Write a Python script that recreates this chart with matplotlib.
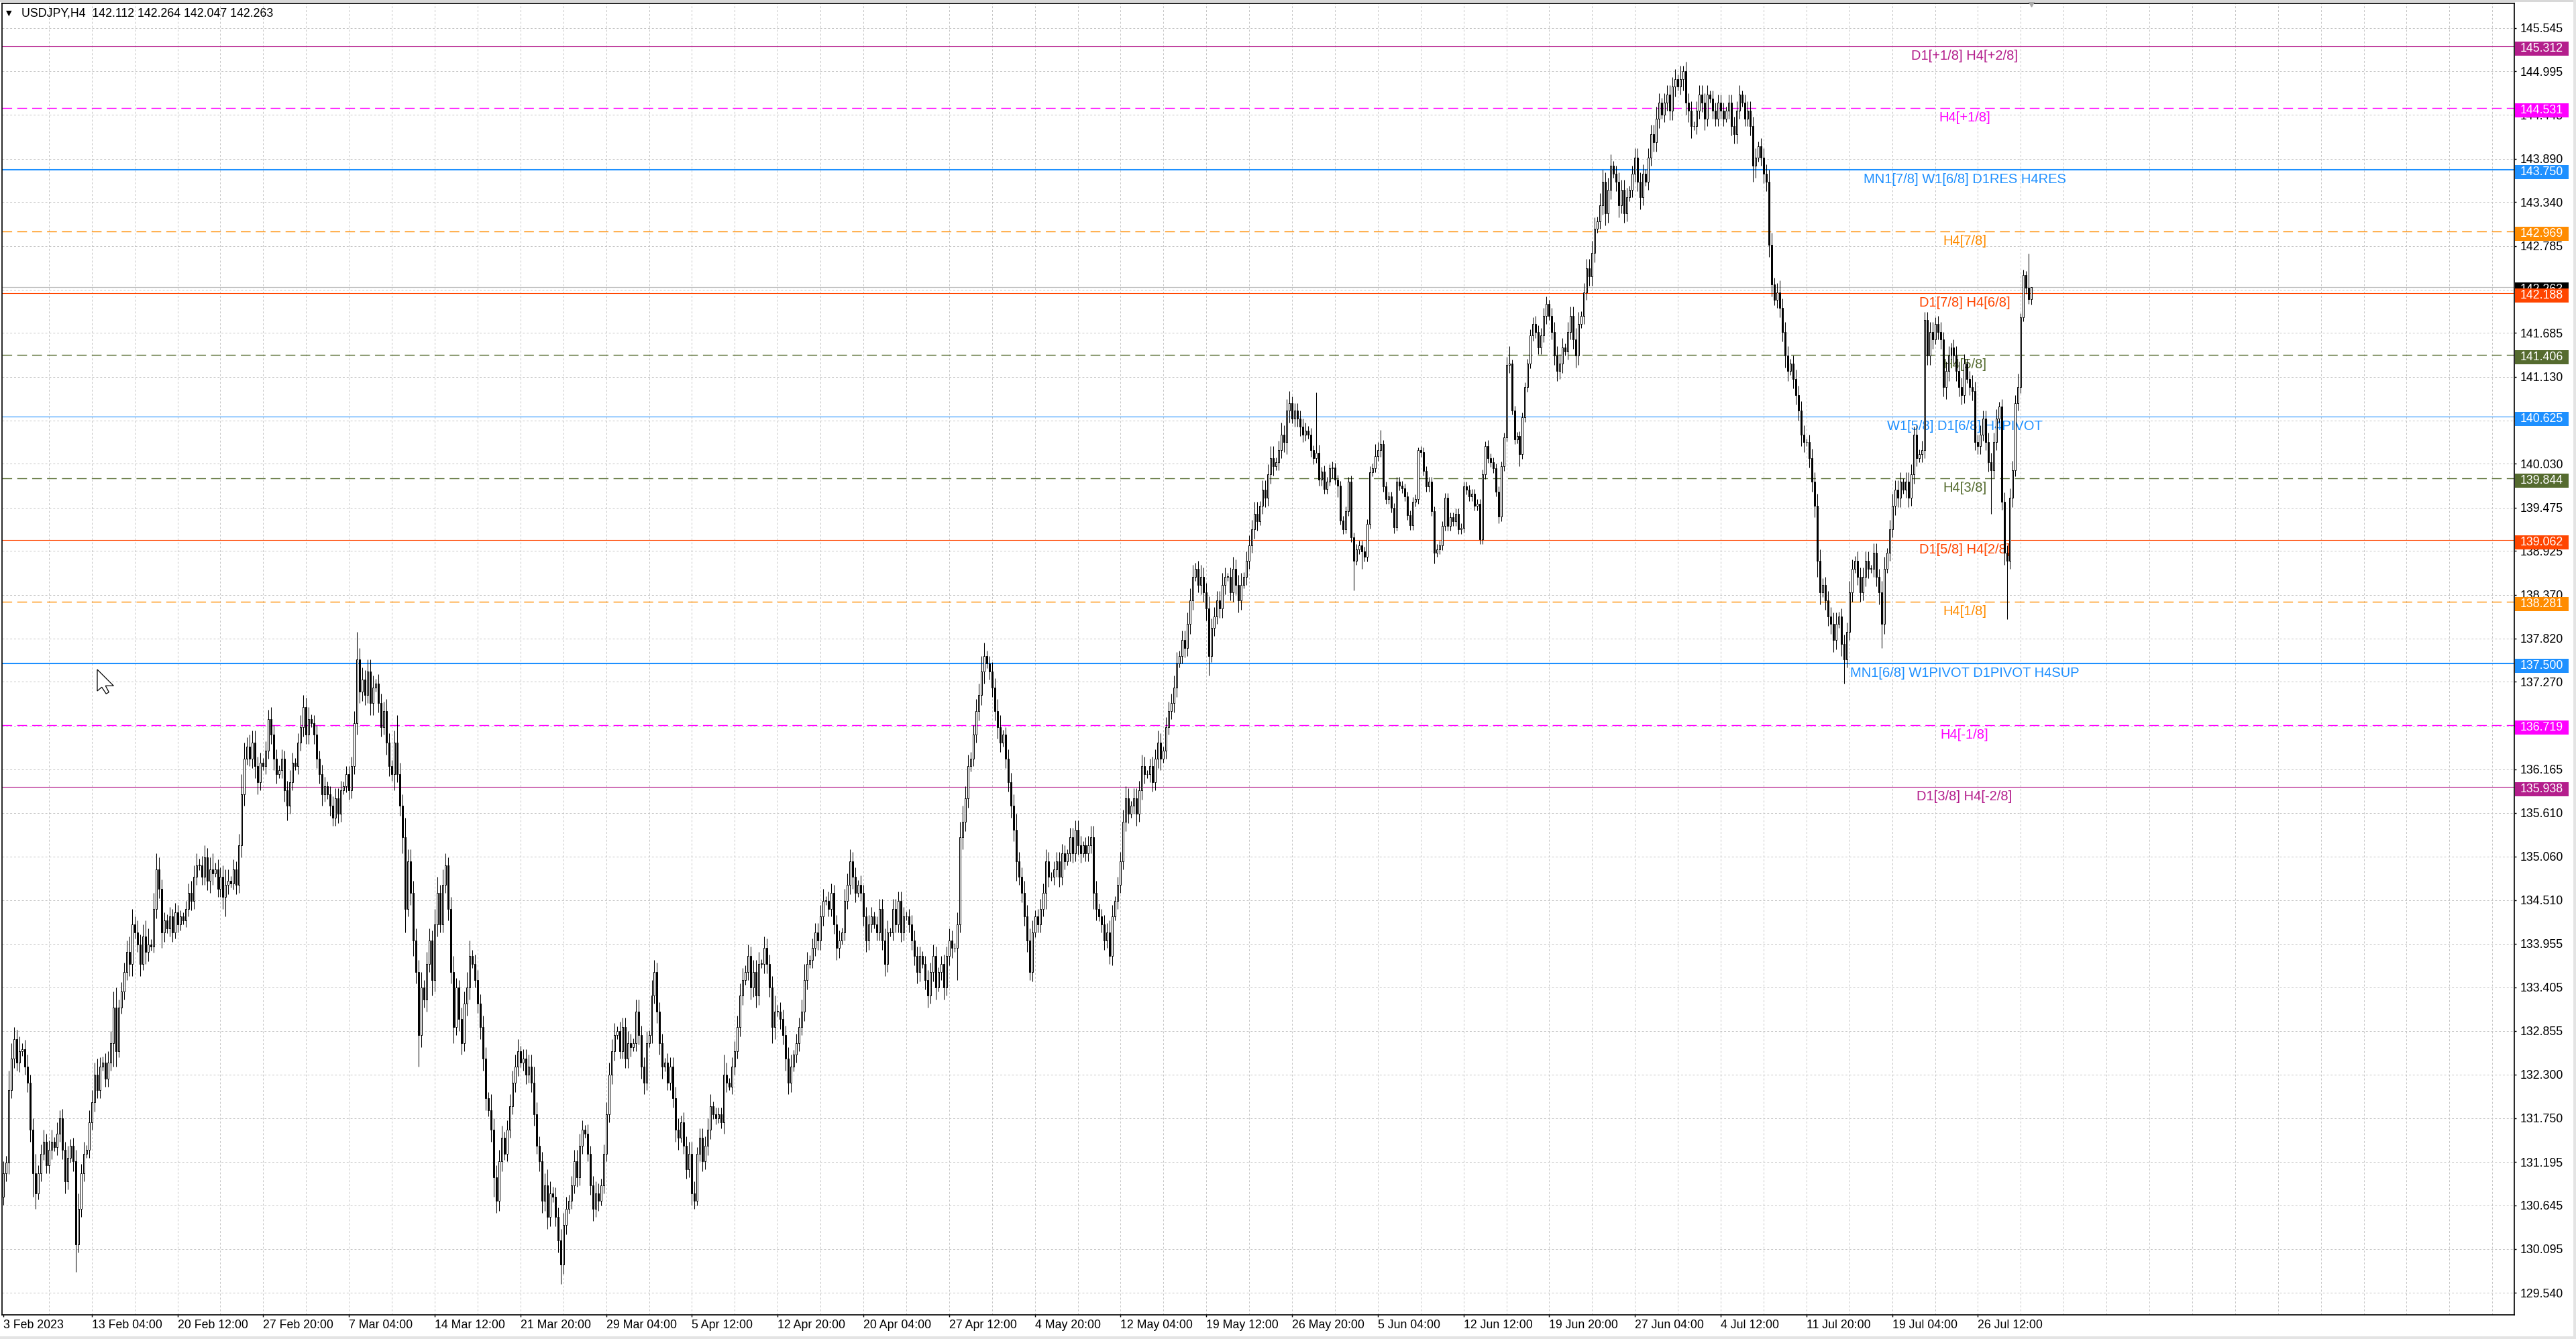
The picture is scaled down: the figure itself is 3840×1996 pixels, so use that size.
import matplotlib
matplotlib.use("Agg")
import matplotlib.pyplot as plt
from matplotlib.patches import Rectangle, Polygon
import numpy as np

plt.rcParams['font.family'] = ['Liberation Sans', 'DejaVu Sans']

symbol = "USDJPY,H4"
first_open = 130.75

# H4 bars, one trading day per row: close:upper wick:lower wick (wicks in 0.01 yen)
h4_bars = """
03Feb 131.05:15:10 131.19:8:10
06Feb 132.10:25:15 132.50:20:10 132.75:15:12 132.45:12:10 132.60:18:12 132.62:8:6
07Feb 132.40:12:10 132.20:15:12 131.60:10:15 131.05:15:30 130.80:25:20 131.05:10:8
08Feb 131.30:12:10 131.45:15:8 131.15:10:10 131.35:12:10 131.45:15:12 131.38:6:5
09Feb 131.55:15:10 131.75:10:10 131.35:12:12 130.95:10:15 131.25:15:10 131.40:8:6
10Feb 131.20:10:12 130.15:15:35 130.60:20:10 131.05:12:10 131.30:15:10 131.35:6:5
13Feb 131.70:15:10 131.95:15:10 132.30:15:12 132.10:20:10 132.40:12:10 132.45:8:5
14Feb 132.25:12:10 132.45:15:10 132.70:15:10 133.15:20:30 132.60:25:20 133.15:10:8
15Feb 133.35:12:8 133.60:12:10 133.85:15:10 133.70:20:15 134.20:20:15 134.10:10:8
16Feb 133.95:15:10 133.70:12:15 134.05:15:8 133.85:20:15 133.95:20:12 133.92:6:5
17Feb 134.40:20:8 134.90:20:12 134.65:15:12 134.10:12:20 134.25:10:12 134.15:8:6
20Feb 134.30:12:10 134.10:10:12 134.35:12:8 134.20:10:10 134.30:8:8 134.25:5:5
21Feb 134.40:10:8 134.60:12:10 134.50:15:12 134.80:15:10 134.95:15:10 134.95:8:6
22Feb 134.80:12:10 135.05:15:10 134.75:12:12 134.90:15:15 134.85:20:15 134.90:8:5
23Feb 134.65:12:10 134.80:12:10 134.55:15:15 134.70:20:25 134.75:15:12 134.72:6:5
24Feb 134.90:12:8 134.70:10:12 135.20:15:10 135.85:25:15 136.30:20:15 136.45:12:8
27Feb 136.30:15:10 136.50:15:12 136.20:15:15 136.00:12:15 136.25:12:10 136.20:6:5
28Feb 136.40:12:10 136.80:12:10 136.60:15:12 136.30:12:15 136.10:12:12 136.15:6:5
01Mar 136.30:12:10 135.90:10:15 135.70:12:18 136.00:15:10 136.25:12:10 136.20:6:5
02Mar 136.50:12:10 136.70:15:10 136.95:15:12 136.60:12:12 136.80:15:12 136.75:6:5
03Mar 136.60:10:12 136.30:12:12 136.10:10:12 135.85:12:15 135.95:12:10 135.85:6:6
06Mar 135.70:10:12 135.55:12:10 135.80:12:10 135.60:12:12 135.90:12:10 135.95:6:5
07Mar 136.10:10:8 135.90:10:12 136.20:12:10 136.75:15:10 137.55:35:15 137.15:15:15
08Mar 137.30:15:12 137.10:12:12 137.40:15:10 137.00:15:15 137.20:15:15 137.25:6:5
09Mar 137.00:12:12 136.70:12:12 136.90:12:10 136.50:15:15 136.20:12:12 136.10:8:8
10Mar 136.50:15:20 136.10:35:10 135.70:15:12 135.30:15:20 134.40:25:30 135.00:15:10
13Mar 134.60:15:15 134.00:15:20 133.60:15:15 132.80:15:40 133.40:20:15 133.25:10:10
14Mar 133.70:15:15 134.00:15:10 133.50:12:20 134.20:20:15 134.60:20:15 134.20:10:10
15Mar 134.70:20:10 134.95:15:10 134.40:10:15 133.60:15:15 132.90:20:20 133.40:12:10
16Mar 133.00:10:15 132.70:15:15 133.20:15:10 133.40:20:15 133.80:20:15 133.70:8:5
17Mar 133.50:12:10 133.20:12:12 132.90:12:15 132.50:15:15 132.00:15:15 131.85:8:8
20Mar 131.60:20:15 131.00:15:25 130.70:15:15 131.20:15:12 131.50:15:12 131.30:8:8
21Mar 131.60:12:10 131.90:15:10 132.20:15:10 132.40:15:12 132.60:15:12 132.45:6:6
22Mar 132.50:12:10 132.30:12:12 132.40:15:10 132.20:15:12 131.80:20:15 131.40:15:10
23Mar 131.20:12:12 130.70:12:15 130.90:15:12 130.50:20:15 130.80:15:12 130.75:8:6
24Mar 130.50:12:12 130.20:12:15 129.90:15:25 130.40:15:12 130.60:15:12 130.70:8:6
27Mar 130.90:12:10 131.20:15:10 131.00:15:12 131.40:15:10 131.60:12:10 131.55:6:5
28Mar 131.30:12:10 130.90:10:12 130.60:12:15 130.80:15:10 130.70:12:12 130.90:8:6
29Mar 131.30:12:10 131.80:15:10 132.30:15:10 132.60:15:12 132.80:15:12 132.85:6:5
30Mar 132.60:12:10 132.90:12:10 132.50:12:12 132.70:15:12 132.65:12:12 132.70:6:5
31Mar 133.10:15:10 132.80:15:12 132.40:12:15 132.20:12:15 132.70:15:10 132.80:6:5
03Apr 133.30:20:10 133.60:15:10 133.10:12:15 132.70:12:15 132.40:12:15 132.45:6:6
04Apr 132.20:12:10 132.40:12:10 132.00:12:12 131.60:15:15 131.50:15:15 131.70:8:6
05Apr 131.40:12:10 131.10:12:12 131.30:15:10 130.80:15:15 130.70:15:10 131.30:8:6
06Apr 131.50:12:10 131.20:12:12 131.40:12:10 131.60:15:12 131.90:15:12 131.80:6:6
07Apr 131.75:8:8 131.80:8:6 131.70:8:8 132.30:25:15 132.20:15:12 132.15:6:5
10Apr 132.40:12:10 132.60:12:10 132.90:15:10 133.30:15:12 133.50:15:12 133.60:8:6
11Apr 133.80:15:10 133.40:12:15 133.60:15:12 133.30:15:15 133.70:15:12 133.70:6:5
12Apr 133.90:15:12 133.70:12:12 133.40:12:12 132.90:15:20 133.10:20:15 133.10:8:6
13Apr 133.00:12:12 132.80:12:12 132.50:12:15 132.20:15:15 132.40:15:12 132.55:6:6
14Apr 132.70:12:10 132.90:12:10 133.10:15:10 133.50:20:12 133.70:15:12 133.75:6:5
17Apr 133.90:12:10 134.10:12:10 134.00:12:12 134.30:15:12 134.50:15:12 134.50:6:5
18Apr 134.40:12:10 134.60:12:10 134.20:10:12 133.90:12:15 134.00:12:12 134.10:6:5
19Apr 134.50:15:10 134.70:15:10 135.00:15:12 134.80:12:15 134.60:12:12 134.70:6:5
20Apr 134.60:12:10 134.30:10:12 134.00:12:15 134.20:12:12 134.30:12:10 134.20:6:5
21Apr 134.10:10:10 134.40:12:10 134.00:12:12 133.70:15:15 134.10:15:10 134.10:6:5
24Apr 134.40:12:10 134.20:12:10 134.50:12:10 134.10:12:12 134.30:12:10 134.30:6:5
25Apr 134.20:10:10 134.00:12:12 133.80:12:12 133.60:12:15 133.80:12:12 133.70:6:5
26Apr 133.50:10:12 133.30:12:15 133.60:12:10 133.80:15:12 133.40:12:15 133.60:6:5
27Apr 133.70:10:10 133.40:12:15 133.80:12:10 134.00:15:12 133.90:12:12 133.90:6:5
28Apr 134.20:15:40 135.30:20:10 135.50:20:15 135.80:15:12 136.20:15:12 136.30:8:6
01May 136.60:12:10 136.90:15:10 137.10:15:12 137.40:20:12 137.60:17:15 137.50:6:6
02May 137.40:10:10 137.20:12:12 136.90:12:12 136.70:15:15 136.50:15:12 136.60:6:5
03May 136.30:10:12 136.00:12:12 135.70:12:15 135.40:15:15 135.00:20:25 134.80:12:10
04May 134.60:12:12 134.30:15:12 134.00:15:15 133.60:15:10 134.10:15:12 134.30:8:6
05May 134.20:10:10 134.40:12:10 134.60:12:10 135.00:15:20 134.80:12:12 134.80:6:5
08May 134.90:10:10 135.00:12:10 134.80:12:12 135.10:12:10 135.00:10:10 135.10:5:5
09May 135.30:12:10 135.10:12:12 135.40:12:10 135.20:12:12 135.10:12:12 135.20:5:5
10May 135.10:10:10 135.20:12:10 135.30:15:10 134.60:15:20 134.40:15:15 134.30:6:6
11May 134.20:10:10 134.00:12:12 134.10:12:10 133.80:15:10 134.30:15:12 134.50:6:5
12May 134.70:10:10 135.00:12:10 135.50:15:10 135.80:15:12 135.60:12:12 135.70:6:5
15May 135.80:12:10 135.60:12:15 135.90:12:10 136.20:15:12 136.10:12:12 136.10:5:5
16May 136.20:10:10 136.00:12:12 136.30:12:10 136.50:15:12 136.30:12:15 136.40:5:5
17May 136.70:12:10 136.90:12:10 137.00:12:10 137.20:15:12 137.50:15:12 137.60:6:5
18May 137.80:12:10 137.70:12:12 138.00:15:10 138.30:15:12 138.60:15:12 138.70:8:5
19May 138.50:10:10 138.60:15:12 138.40:12:12 138.20:12:15 137.60:15:25 137.95:12:8
22May 138.10:12:10 138.30:12:10 138.20:12:12 138.50:15:12 138.60:12:12 138.60:5:5
23May 138.40:12:10 138.70:15:12 138.50:12:12 138.30:12:15 138.50:15:12 138.60:6:5
24May 138.80:12:10 139.00:12:10 139.20:12:10 139.40:15:12 139.30:15:12 139.50:6:5
25May 139.70:12:10 139.60:12:12 139.90:12:10 140.10:15:12 140.00:15:12 140.05:6:5
26May 140.20:12:10 140.40:15:10 140.30:12:12 140.70:15:15 140.80:15:15 140.60:8:6
29May 140.70:10:10 140.60:10:10 140.50:10:12 140.40:10:10 140.45:10:8 140.40:6:5
30May 140.20:8:8 140.10:6:8 140.17:76:6 139.83:10:8 139.93:6:8 139.71:8:6
31May 139.80:6:6 139.97:5:5 139.98:8:12 139.83:6:6 139.75:6:14 139.31:6:5
01Jun 139.20:6:6 139.43:6:5 139.80:6:6 139.10:8:6 138.80:6:37 138.95:6:5
02Jun 139.00:6:6 138.92:6:22 138.85:6:6 139.27:6:6 139.92:8:6 139.97:6:5
05Jun 140.13:15:5 140.20:10:6 140.28:18:8 139.74:5:6 139.58:6:6 139.62:6:6
06Jun 139.47:6:6 139.23:6:8 139.80:6:5 139.75:6:6 139.72:6:6 139.62:6:6
07Jun 139.38:6:6 139.25:6:6 139.55:6:6 139.58:6:6 140.20:4:6 140.18:5:6
08Jun 139.94:6:6 139.74:6:6 139.80:6:6 139.43:6:6 138.90:6:13 138.95:6:5
09Jun 139.00:6:6 139.24:6:6 139.60:6:6 139.24:6:6 139.35:6:6 139.30:6:6
12Jun 139.40:6:6 139.20:6:6 139.22:6:6 139.74:6:6 139.70:6:6 139.62:6:6
13Jun 139.65:6:6 139.50:6:6 139.52:6:6 139.07:6:6 139.90:6:6 140.25:6:6
14Jun 140.10:8:6 140.05:6:6 139.97:6:6 139.68:6:6 139.36:6:8 140.00:6:6
15Jun 140.36:6:6 141.28:10:5 141.30:22:10 140.70:5:5 140.34:6:6 140.38:5:5
16Jun 140.15:6:15 140.62:6:6 141.00:6:6 141.30:6:6 141.65:8:6 141.80:8:6
19Jun 141.70:10:8 141.50:8:8 141.65:10:8 141.90:10:8 142.05:10:10 141.90:5:5
20Jun 141.70:10:10 141.40:12:12 141.20:12:12 141.30:12:10 141.50:12:12 141.45:5:5
21Jun 141.70:12:10 141.90:12:10 141.60:12:12 141.40:15:15 141.80:15:12 141.90:6:5
22Jun 142.20:12:10 142.50:12:10 142.40:12:12 142.70:15:12 143.00:15:12 143.10:6:5
23Jun 143.30:15:10 143.60:15:12 143.20:12:15 143.50:15:12 143.80:15:12 143.70:6:5
26Jun 143.60:10:12 143.30:12:15 143.50:12:10 143.20:12:12 143.40:12:10 143.50:5:5
27Jun 143.70:10:10 143.90:12:10 143.60:12:12 143.40:12:15 143.70:12:10 143.60:6:5
28Jun 143.90:12:10 144.20:12:10 144.10:12:12 144.40:15:12 144.60:12:12 144.45:6:5
29Jun 144.60:12:10 144.70:12:10 144.50:12:12 144.80:12:12 144.90:12:12 144.80:6:5
30Jun 144.90:17:10 145.00:7:15 144.60:12:15 144.50:12:15 144.30:12:15 144.30:6:5
03Jul 144.50:12:10 144.70:12:10 144.60:12:12 144.40:12:15 144.70:12:10 144.65:5:5
04Jul 144.50:10:10 144.40:10:10 144.60:10:10 144.50:10:10 144.40:10:10 144.50:5:5
05Jul 144.60:10:10 144.30:10:12 144.20:12:12 144.50:12:12 144.70:12:10 144.60:5:5
06Jul 144.40:10:10 144.50:12:10 144.30:12:12 143.80:12:20 143.90:12:15 144.05:6:5
07Jul 143.90:10:10 143.70:12:12 143.60:12:12 142.80:15:15 142.30:15:15 142.10:8:6
10Jul 142.20:12:10 142.00:15:12 141.70:12:12 141.40:12:15 141.20:12:12 141.30:6:5
11Jul 141.10:10:12 140.90:12:12 140.70:12:12 140.40:12:15 140.30:12:12 140.30:5:5
12Jul 140.10:10:12 139.80:12:12 139.50:12:15 138.80:15:20 138.40:15:15 138.50:8:6
13Jul 138.30:10:12 138.10:12:12 138.00:12:12 137.80:15:15 138.00:15:12 138.10:6:5
14Jul 137.75:10:15 137.55:12:30 137.90:12:10 138.40:15:10 138.70:12:12 138.80:6:5
17Jul 138.60:12:10 138.40:12:12 138.60:12:10 138.80:12:12 138.70:12:12 138.70:5:5
18Jul 138.90:12:10 138.60:12:12 138.40:10:15 138.00:15:30 138.70:15:12 138.90:6:5
19Jul 139.20:12:10 139.50:15:10 139.70:12:12 139.60:12:12 139.80:12:12 139.70:5:5
20Jul 139.80:12:10 139.60:12:12 139.90:12:10 140.40:10:12 140.10:12:10 140.15:6:5
21Jul 140.20:12:10 141.85:10:10 141.40:10:12 141.70:12:12 141.60:12:12 141.80:8:6
24Jul 141.70:10:10 141.60:12:12 141.00:10:12 141.20:12:15 141.40:12:12 141.50:6:5
25Jul 141.40:10:10 141.20:12:12 141.00:12:12 140.90:12:12 141.30:12:10 141.10:6:5
26Jul 141.00:10:10 140.95:15:12 140.30:12:10 140.25:10:10 140.40:12:10 140.60:10:8
27Jul 140.30:10:10 140.05:12:12 139.95:12:55 140.30:12:10 140.60:12:10 140.75:6:5
28Jul 139.55:10:10 138.90:12:15 138.80:10:74 139.60:12:10 139.95:12:12 140.80:10:8
31Jul 141.00:17:10 141.88:5:8 142.42:7:5 142.26:5:8 142.112:43:6 142.263:0.1:6.5
"""

# Murrey math levels drawn by the indicator
levels = [145.312, 144.531, 143.750, 142.969, 142.188, 141.406, 140.625,
          139.844, 139.062, 138.281, 137.500, 136.719, 135.938]
level_names = ["D1[+1/8] H4[+2/8]", "H4[+1/8]", "MN1[7/8] W1[6/8] D1RES H4RES",
               "H4[7/8]", "D1[7/8] H4[6/8]", "H4[5/8]", "W1[5/8] D1[6/8] H4PIVOT",
               "H4[3/8]", "D1[5/8] H4[2/8]", "H4[1/8]", "MN1[6/8] W1PIVOT D1PIVOT H4SUP",
               "H4[-1/8]", "D1[3/8] H4[-2/8]"]
level_colors = ["#B41E8C", "#FF00FF", "#1E90FF", "#FF8C00", "#FF4500", "#556B2F", "#1E90FF",
                "#556B2F", "#FF4500", "#FF8C00", "#1E90FF", "#FF00FF", "#B41E8C"]
level_kinds = ["solid", "dash", "thick", "dash", "solid", "dash", "solid",
               "dash", "solid", "dash", "thick", "dash", "solid"]

price_ticks = [145.545, 144.995, 144.445, 143.890, 143.340, 142.785, 142.235, 141.685,
               141.130, 140.580, 140.030, 139.475, 138.925, 138.370, 137.820, 137.270,
               136.715, 136.165, 135.610, 135.060, 134.510, 133.955, 133.405, 132.855,
               132.300, 131.750, 131.195, 130.645, 130.095, 129.540]

time_labels = ["3 Feb 2023", "13 Feb 04:00", "20 Feb 12:00", "27 Feb 20:00", "7 Mar 04:00",
               "14 Mar 12:00", "21 Mar 20:00", "29 Mar 04:00", "5 Apr 12:00", "12 Apr 20:00",
               "20 Apr 04:00", "27 Apr 12:00", "4 May 20:00", "12 May 04:00", "19 May 12:00",
               "26 May 20:00", "5 Jun 04:00", "12 Jun 12:00", "19 Jun 20:00", "27 Jun 04:00",
               "4 Jul 12:00", "11 Jul 20:00", "19 Jul 04:00", "26 Jul 12:00"]

# parse bars
closes, wick_up, wick_dn = [], [], []
for row in h4_bars.strip().splitlines():
    for tok in row.split()[1:]:
        c, u, d = tok.split(":")
        closes.append(float(c))
        wick_up.append(float(u) / 100)
        wick_dn.append(float(d) / 100)
closes = np.array(closes)
opens = np.r_[first_open, closes[:-1]]
highs = np.maximum(opens, closes) + np.array(wick_up)
lows = np.minimum(opens, closes) - np.array(wick_dn)
x = np.arange(len(closes))

W, H = 3840, 1996
ax_l, ax_r, ax_t, ax_b = 3, 3748, 5, 1960
fig = plt.figure(figsize=(W / 100, H / 100), dpi=100)
ax = fig.add_axes([ax_l / W, (H - ax_b) / H, (ax_r - ax_l) / W, (ax_b - ax_t) / H])

ytop, ybot = 145.856, 129.260
ax.set_ylim(ybot, ytop)
ax.set_xlim(-0.5, 937.2)
px_per_price = (ax_b - ax_t) / (ytop - ybot)
ax_w_px = ax_r - ax_l

# grid
grid_kw = dict(color="#C4C4C4", lw=0.7, ls=(0, (3, 3)), zorder=0.5)
for p in price_ticks:
    ax.axhline(p, **grid_kw)
for g in range(17, 938, 16):
    ax.axvline(g, **grid_kw)

# levels + labels
for lv, name, col, kind in zip(levels, level_names, level_colors, level_kinds):
    if kind == "dash":
        ax.axhline(lv, color=col, lw=1.0, ls=(0, (10.5, 5.5)), zorder=1)
    elif kind == "thick":
        ax.axhline(lv, color=col, lw=1.5, zorder=1)
    else:
        ax.axhline(lv, color=col, lw=0.8, zorder=1)
    ax.text(732, lv - 20 / px_per_price, name, color=col, fontsize=14.5,
            ha="center", va="baseline", zorder=2)

# current price line
last = closes[-1]
ax.axhline(last, color="#C0C0C0", lw=0.9, zorder=1)

# candles
ax.vlines(x, lows, highs, color="black", lw=0.75, zorder=3)
body = np.maximum(np.abs(closes - opens), 0.006)
bull = closes >= opens
ax.bar(x, body, bottom=np.minimum(opens, closes), width=0.5,
       color=np.where(bull, "white", "black"), edgecolor="black", linewidth=0.7, zorder=4)

# price axis
ax.yaxis.tick_right()
ax.set_yticks(price_ticks, [f"{p:.3f}" for p in price_ticks])
ax.tick_params(axis="y", length=2.2, width=1, pad=4.3, labelsize=12.8, colors="black")

ax.set_xticks([0] + [33 + 32 * k for k in range(len(time_labels) - 1)])
ax.set_xticklabels(time_labels, ha="left")
ax.tick_params(axis="x", length=2.5, width=1, pad=2.5, labelsize=12.8)

for sp in ax.spines.values():
    sp.set_color("black")
    sp.set_linewidth(1.2)

# price tags on the right
ytr = ax.get_yaxis_transform()
tag_w = 80 / ax_w_px
tag_h = 21 / px_per_price


def price_tag(value, color, z):
    yc = value - 3 / px_per_price
    ax.add_patch(Rectangle((1.0 + 1 / ax_w_px, yc - tag_h / 2), tag_w, tag_h, transform=ytr,
                           facecolor=color, edgecolor="none", clip_on=False, zorder=z))
    ax.text(1.0 + 1 / ax_w_px + tag_w / 2, yc, f"{value:.3f}", transform=ytr, color="white",
            fontsize=12.8, ha="center", va="center", clip_on=False, zorder=z + 0.1)


price_tag(last, "black", 5)
for lv, col in zip(levels, level_colors):
    price_tag(lv, col, 6)

# header
header = f"{symbol}  {opens[-1]:.3f} {highs[-1]:.3f} {lows[-1]:.3f} {closes[-1]:.3f}"
hy = 1 - (19.6 - ax_t) / (ax_b - ax_t)
ax.text(6 / ax_w_px, hy, "\u25bc", transform=ax.transAxes, fontsize=8,
        family="DejaVu Sans", ha="left", va="center", zorder=7)
ax.text(29 / ax_w_px, hy, header, transform=ax.transAxes, fontsize=12.8,
        ha="left", va="center", zorder=7)

# chart shift marker
ax.plot([len(closes) - 1], [ytop], marker="v", ms=7, color="#A8A8A8", clip_on=False, zorder=7)

# mouse pointer left in the screenshot (figure pixels from top-left)
cursor_px = [(145, 998), (145, 1030), (151.7, 1024.3), (158.3, 1034.3),
             (162.3, 1031.7), (157.3, 1022.3), (169.3, 1022.3)]
fig.patches.append(Polygon([(px / W, 1 - py / H) for px, py in cursor_px], closed=True,
                           transform=fig.transFigure, facecolor="white",
                           edgecolor="black", lw=0.9, zorder=10))

# window frame strips
fig.patches.append(Rectangle((0, 1 - 3 / H), 1, 3 / H, transform=fig.transFigure,
                             facecolor="#D8D8D8", edgecolor="none"))
fig.patches.append(Rectangle((0, 0), 1, 4 / H, transform=fig.transFigure,
                             facecolor="#E4E4E4", edgecolor="none"))
fig.patches.append(Rectangle((1 - 4 / W, 0), 4 / W, 1, transform=fig.transFigure,
                             facecolor="#E4E4E4", edgecolor="none"))

fig.savefig("out.png", dpi=100, facecolor="white")
